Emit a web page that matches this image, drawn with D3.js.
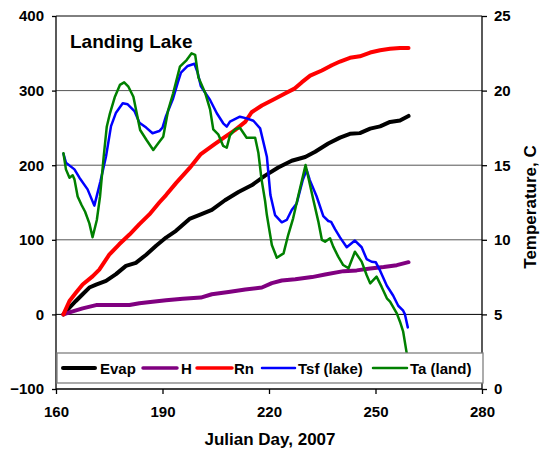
<!DOCTYPE html>
<html><head><meta charset="utf-8">
<script src="https://cdn.jsdelivr.net/npm/d3@7"></script>
<style>body{margin:0;background:#fff}svg{display:block}text{font-family:"Liberation Sans",Arial,sans-serif;font-weight:bold}</style>
</head><body><svg id="c" width="544" height="452"></svg>
<script>
const xTicks = [160,190,220,250,280];
const leftTicks = [-100,0,100,200,300,400];
const rightTicks = [0,5,10,15,20,25];
const seriesNames = ["Evap","H","Rn","Tsf (lake)","Ta (land)"];
const seriesColors = ["#000000","#800080","#ff0000","#0000ff","#008000"];

// cumulative energy (left axis) [day, value]
const evap = [[162.1,0],[163.8,9],[165.6,18],[167.5,27],[169.4,36],[171.3,40],[174.1,45],[176.9,54],[179.7,65],[182.5,69],[185.4,80],[188.2,92],[191.0,103],[193.8,112],[197.6,128],[200.8,134],[203.9,140],[207.6,153],[211.4,164],[215.1,173],[218.9,186],[222.6,197],[226.4,206],[230.2,211],[233.0,218],[236.7,229],[240.0,237],[242.8,242],[245.6,243],[248.5,249],[251.3,252],[254.1,258],[256.9,260],[259.3,266]];
const hflux = [[162.1,0],[164.7,4],[167.5,8],[171.3,12.5],[175.0,12.5],[180.7,12.5],[183.5,15],[187.2,17],[191.0,19],[195.7,21],[200.8,22.5],[203.9,27],[208.6,30],[213.3,33.5],[218.0,36],[220.8,42],[223.6,45.5],[227.4,47],[232.1,50],[235.8,53.5],[241.0,58],[244.7,59],[248.5,61.5],[252.3,63.5],[256.0,66],[259.3,70]];
const rn = [[162.1,0],[163.8,18],[165.6,29],[167.5,40],[170.3,51],[172.2,60],[175.0,80],[177.8,94],[180.7,107],[183.5,121],[186.3,134],[189.1,150],[191.0,160],[193.8,176],[197.6,196],[200.8,215],[204.3,227],[207.6,238],[210.4,247],[213.3,258],[215.1,271],[218.0,280],[221.7,289],[224.5,296],[227.3,303],[229.2,311],[231.6,320],[234.9,327],[237.7,334],[240.0,339],[242.8,344],[245.6,346],[248.5,351],[251.3,354],[254.1,356],[256.9,357],[259.3,357]];
// temperatures (right axis, C)
const tsf = [[162.1,15.77],[162.8,15.17],[165.2,14.72],[166.6,14.16],[168.9,13.38],[170.8,12.29],[172.5,13.9],[174.1,15.6],[175.5,17.62],[176.9,18.52],[178.8,19.15],[180.2,19.08],[182.1,18.63],[183.5,17.85],[185.4,17.52],[187.2,17.14],[189.1,17.29],[190.0,17.52],[191.0,18.3],[192.9,19.41],[194.3,20.53],[195.2,21.2],[197.1,21.65],[199.0,21.8],[199.9,21.2],[200.8,20.3],[201.5,20.04],[203.4,19.37],[205.3,18.48],[207.1,17.81],[208.1,17.58],[209.0,17.92],[211.8,18.25],[213.7,18.14],[215.6,17.98],[217.5,17.47],[219.4,15.57],[220.4,13.0],[221.7,11.66],[223.6,11.17],[225.0,11.33],[226.4,12.0],[227.8,12.44],[229.5,14.0],[230.6,14.68],[231.5,14.0],[233.4,12.92],[235.3,11.59],[236.7,11.26],[237.5,11.2],[238.6,10.72],[240.0,10.16],[241.9,9.5],[244.2,9.95],[246.1,9.5],[247.5,8.71],[248.9,8.53],[250.1,8.49],[251.3,7.93],[253.2,6.92],[255.0,6.25],[256.4,5.58],[257.8,5.25],[258.3,5.0],[259.1,4.13]];
const ta = [[162.1,15.8],[162.8,14.72],[163.8,14.16],[164.7,14.32],[165.2,14.05],[166.1,12.9],[167.2,12.33],[168.2,11.88],[169.4,11.1],[170.3,10.17],[171.5,11.33],[172.4,12.89],[173.4,15.5],[174.3,17.58],[175.2,18.48],[176.6,19.59],[178.0,20.38],[179.2,20.55],[180.4,20.26],[181.8,19.59],[183.7,17.36],[185.5,16.69],[187.4,16.02],[188.8,16.47],[190.2,16.91],[191.6,18.7],[193.0,19.82],[194.9,21.6],[196.8,22.05],[198.2,22.5],[199.2,22.4],[200.1,20.9],[202.0,19.86],[203.4,18.74],[204.3,17.4],[205.7,17.07],[207.1,16.29],[208.1,16.17],[209.0,17.0],[210.4,17.4],[211.8,17.51],[213.7,16.84],[216.1,16.84],[217.0,15.84],[217.9,14.05],[218.9,12.6],[219.4,11.66],[220.8,9.65],[222.2,8.8],[224.1,9.09],[225.4,10.32],[226.8,11.44],[228.3,13.0],[230.3,15.01],[232.5,12.67],[233.9,11.22],[234.9,9.99],[235.8,9.87],[237.2,10.1],[238.1,9.54],[239.5,8.87],[240.9,8.31],[242.4,8.09],[244.2,9.2],[246.1,8.54],[247.5,7.64],[248.5,7.08],[250.3,7.53],[251.7,6.86],[253.2,6.08],[254.1,5.86],[256.0,5.07],[256.9,4.51],[257.8,3.84],[258.8,2.39],[259.1,1.5]];

const L = 56, R = 482, T = 16, B = 389;
const svg = d3.select("#c");
const x = d3.scaleLinear().domain([160,280]).range([L,R]);
const yL = d3.scaleLinear().domain([-100,400]).range([B,T]);
const yR = d3.scaleLinear().domain([0,25]).range([B,T]);

// gridlines
svg.append("g").selectAll("line").data(leftTicks.filter(v=>v>-100 && v<400)).join("line")
  .attr("x1",L).attr("x2",R).attr("y1",d=>yL(d)).attr("y2",d=>yL(d))
  .attr("stroke",d=>d===0?"#000":"#555").attr("stroke-width",1);
svg.append("line").attr("x1",L).attr("x2",R).attr("y1",T).attr("y2",T).attr("stroke","#000");

svg.append("defs").append("clipPath").attr("id","pc").append("rect").attr("x",L).attr("y",T).attr("width",R-L).attr("height",B-T);
const g = svg.append("g").attr("clip-path","url(#pc)");
const lineL = d3.line().x(d=>x(d[0])).y(d=>yL(d[1]));
const lineR = d3.line().x(d=>x(d[0])).y(d=>yR(d[1]));
[[evap,0,lineL,4],[hflux,1,lineL,4],[rn,2,lineL,4],[tsf,3,lineR,2.5],[ta,4,lineR,2.5]].forEach(([d,i,ln,w])=>{
  g.append("path").attr("d",ln(d)).attr("fill","none").attr("stroke",seriesColors[i]).attr("stroke-width",w).attr("stroke-linejoin","round").attr("stroke-linecap","round");
});

// axes
const fs = 15;
const gl = svg.append("g").attr("transform",`translate(${L},0)`).call(d3.axisLeft(yL).tickValues(leftTicks).tickSize(4).tickPadding(8));
const gr = svg.append("g").attr("transform",`translate(${R},0)`).call(d3.axisRight(yR).tickValues(rightTicks).tickSize(5).tickPadding(7));
const gb = svg.append("g").attr("transform",`translate(0,${B})`).call(d3.axisBottom(x).tickValues(xTicks).tickSize(5).tickPadding(12));
[gl,gr,gb].forEach(a=>{
  a.select(".domain").attr("stroke","#000").attr("stroke-width",1.3);
  a.selectAll(".tick line").attr("stroke","#000").attr("stroke-width",1.3);
  a.selectAll("text").attr("font-size",fs).attr("font-family",'"Liberation Sans",Arial,sans-serif').attr("font-weight","bold").attr("fill","#000");
});
gl.select(".domain").attr("d",`M0,${T}V${B}`);
gr.select(".domain").attr("d",`M0,${T}V${B}`);
gb.select(".domain").attr("d",`M${L},0H${R}`);

// titles
svg.append("text").attr("x",70).attr("y",48).attr("font-size",19).text("Landing Lake");
svg.append("text").attr("x",270).attr("y",445).attr("text-anchor","middle").attr("font-size",17).text("Julian Day, 2007");
svg.append("text").attr("transform","translate(536,207) rotate(-90)").attr("text-anchor","middle").attr("font-size",17).text("Temperature, C");

// legend
const lg = svg.append("g");
lg.append("rect").attr("x",57).attr("y",353).attr("width",426).attr("height",30).attr("fill","#fff").attr("stroke","#808080").attr("stroke-width",1.3);
const items = [[63,95,100],[143,177,181],[197,232,234],[262,295,298],[373,407,410]];
const lw = [4,3.5,3.5,2.5,2.5];
items.forEach(([a,b,t],i)=>{
  lg.append("line").attr("x1",a).attr("x2",b).attr("y1",368).attr("y2",368).attr("stroke",seriesColors[i]).attr("stroke-width",lw[i]).attr("stroke-linecap","round");
  lg.append("text").attr("x",t).attr("y",373.5).attr("font-size",fs).text(seriesNames[i]);
});
</script></body></html>
